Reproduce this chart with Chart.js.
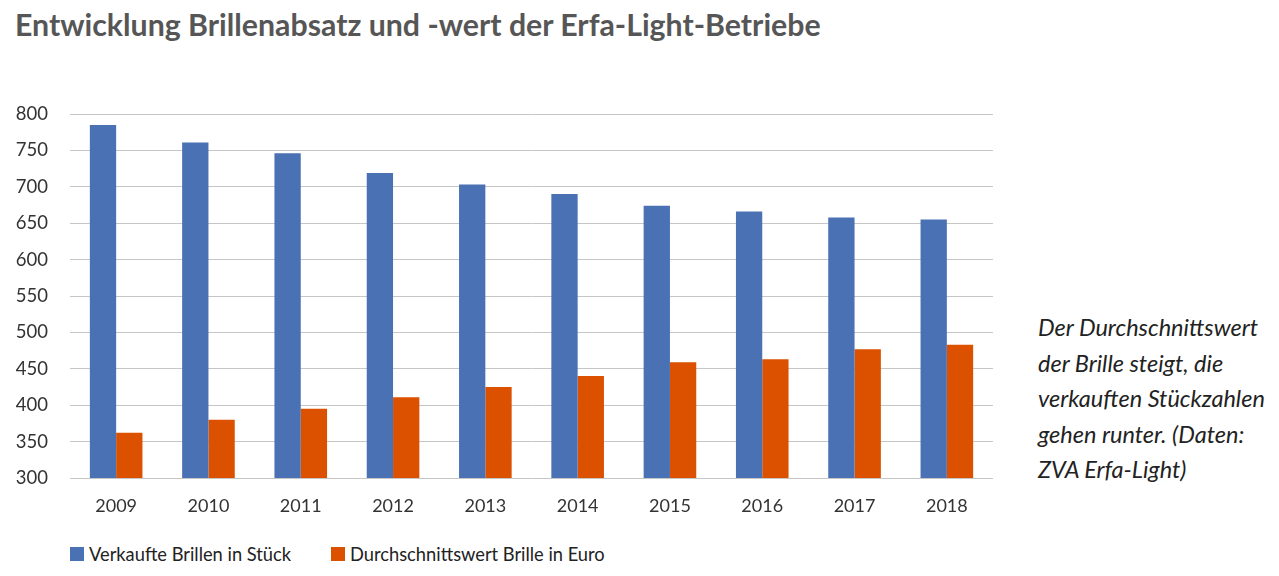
<!DOCTYPE html>
<html>
<head>
<meta charset="utf-8">
<script src="https://cdn.jsdelivr.net/npm/chart.js@4.4.1/dist/chart.umd.min.js"></script>
<style>
  html, body { margin: 0; padding: 0; background: #fff; }
  body { width: 1279px; height: 576px; position: relative; overflow: hidden; font-family: Lato, "Open Sans", sans-serif; }
  #title { position: absolute; left: 15px; top: 6px; font-size: 30.3px; font-weight: 700; color: #565656; white-space: nowrap; }
  #wrap { position: absolute; left: 0; top: 0; width: 1010px; height: 540px; }
  #note { position: absolute; left: 1038px; top: 310px; font-size: 23.5px; font-style: italic; color: #222; line-height: 35.5px; white-space: nowrap; }
  #legend { position: absolute; left: 70px; top: 543px; display: flex; font-size: 18.3px; color: #222; }
  .item { display: flex; align-items: center; margin-right: 40px; }
  .sw { width: 14px; height: 14px; margin-right: 5px; }
</style>
</head>
<body>
<div id="title">Entwicklung Brillenabsatz und -wert der Erfa-Light-Betriebe</div>
<div id="wrap"><canvas id="c"></canvas></div>
<div id="note">Der Durchschnittswert<br>der Brille steigt, die<br>verkauften Stückzahlen<br>gehen runter. (Daten:<br>ZVA Erfa-Light)</div>
<div id="legend"></div>
<script>
const years = ["2009","2010","2011","2012","2013","2014","2015","2016","2017","2018"];
const verkaufteBrillen = [785, 761, 746, 719, 703, 690, 674, 666, 658, 655];
const durchschnittswert = [362, 380, 395, 411, 425, 440, 459, 463, 477, 483];
const seriesNames = ["Verkaufte Brillen in Stück", "Durchschnittswert Brille in Euro"];
const seriesColors = ["#4a71b4", "#db5100"];

const chart = new Chart(document.getElementById('c'), {
  type: 'bar',
  data: {
    labels: years,
    datasets: [
      { label: seriesNames[0], data: verkaufteBrillen, backgroundColor: seriesColors[0] },
      { label: seriesNames[1], data: durchschnittswert, backgroundColor: seriesColors[1] }
    ]
  },
  options: {
    responsive: true,
    maintainAspectRatio: false,
    animation: false,
    layout: { padding: { top: 114, right: 17, left: 0, bottom: 0 } },
    plugins: { legend: { display: false }, tooltip: { enabled: false } },
    datasets: { bar: { categoryPercentage: 0.57, barPercentage: 1.0 } },
    scales: {
      x: {
        grid: { display: false, drawTicks: false },
        border: { display: false },
        ticks: { color: '#333', font: { family: 'Lato', size: 18 }, padding: 17 },
        afterFit: s => { s.height = 62; }
      },
      y: {
        min: 300, max: 800,
        grid: { color: '#c6c6c6', lineWidth: 1, drawTicks: false },
        border: { display: false },
        ticks: { stepSize: 50, color: '#333', font: { family: 'Lato', size: 18.5 }, padding: 22 },
        afterFit: s => { s.width = 70; }
      }
    }
  }
});

const lg = document.getElementById('legend');
chart.data.datasets.forEach(ds => {
  const it = document.createElement('div');
  it.className = 'item';
  const sw = document.createElement('div');
  sw.className = 'sw';
  sw.style.background = ds.backgroundColor;
  const t = document.createElement('span');
  t.textContent = ds.label;
  it.appendChild(sw); it.appendChild(t);
  lg.appendChild(it);
});
</script>
</body>
</html>
